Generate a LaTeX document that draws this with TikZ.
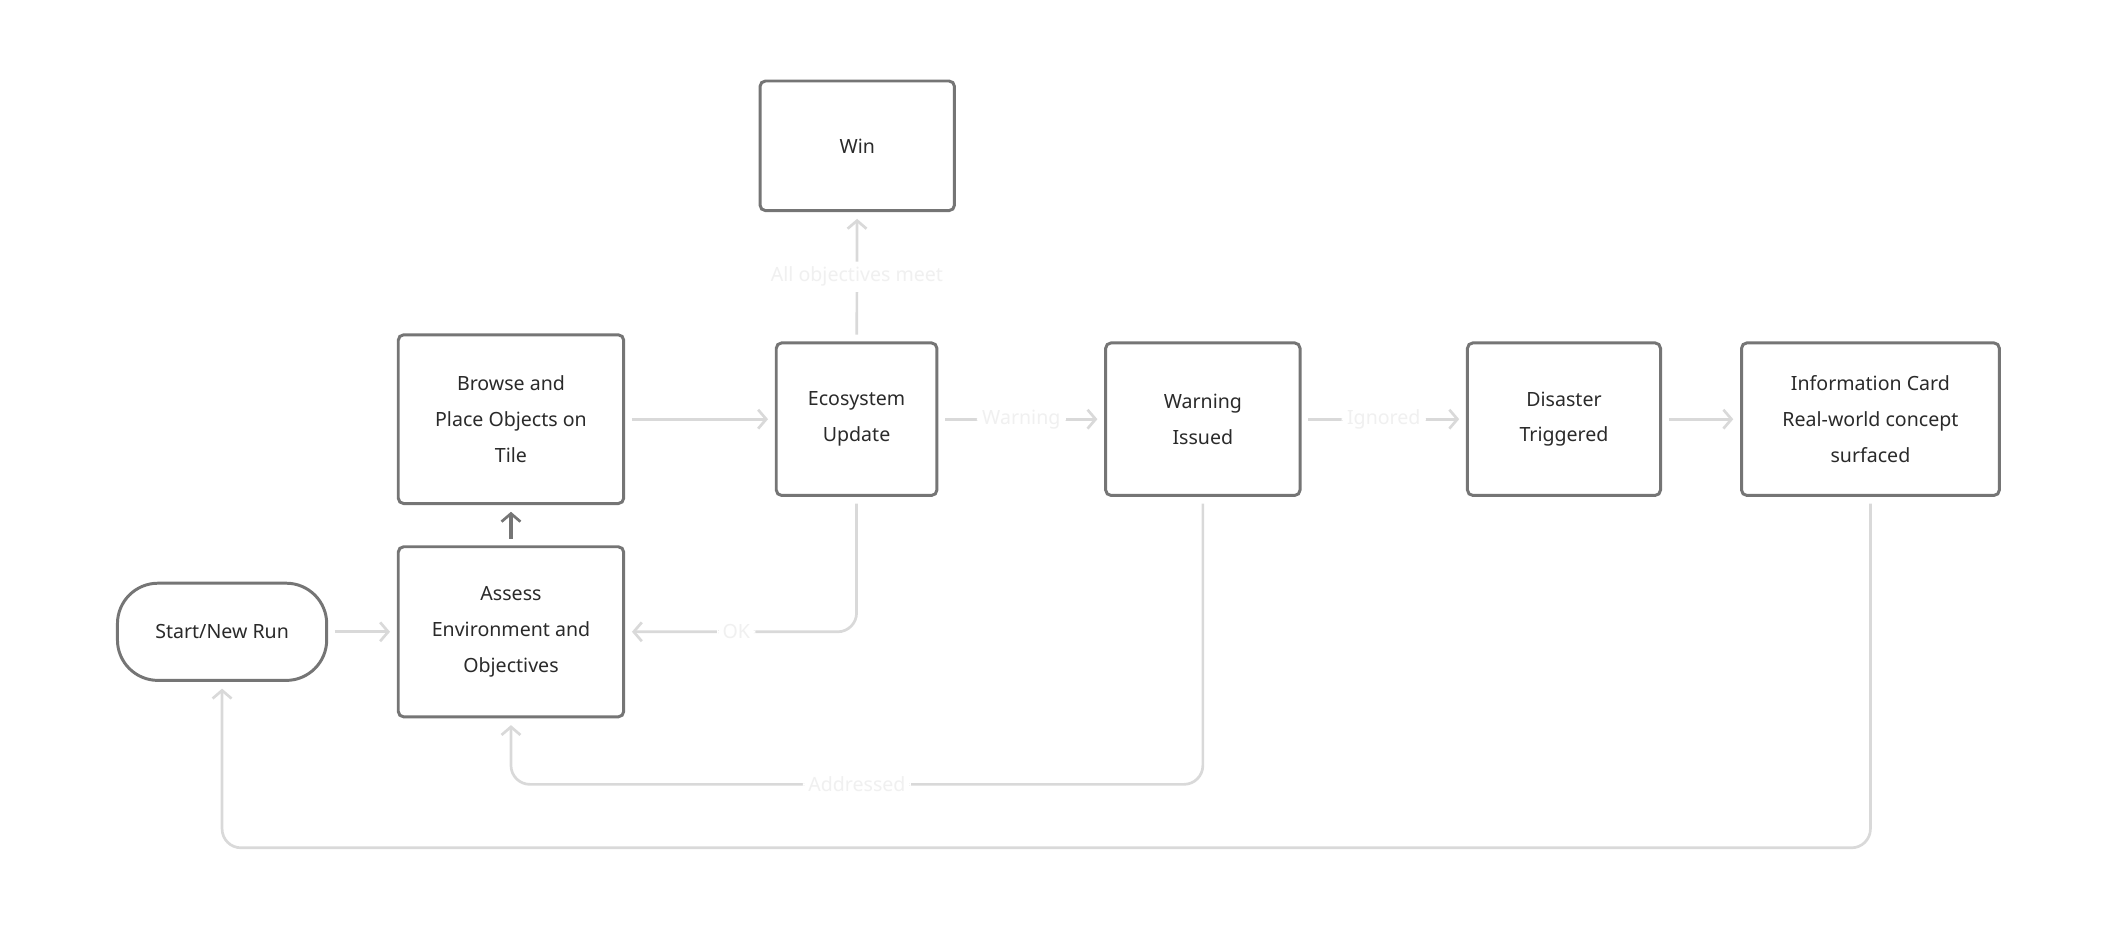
\documentclass[tikz,border=0pt]{standalone}
\usepackage{fontspec}
\setmainfont{Noto Sans}
\usetikzlibrary{arrows.meta}
\definecolor{bd}{HTML}{757575}
\definecolor{ln}{HTML}{D9D9D9}
\definecolor{lb}{HTML}{F0F0F0}
\definecolor{tx}{HTML}{2A2A2A}
\begin{document}
\begin{tikzpicture}[x=1pt,y=-1pt,
  box/.style={draw=bd,line width=2.2pt,rounded corners=4pt,fill=white,text=tx,align=center,inner sep=0pt,font=\fontsize{14.5pt}{26.5pt}\selectfont},
  ed/.style={draw=ln,line width=2pt,rounded corners=14pt,-{Straight Barb[length=6pt,width=14pt,line width=2pt]},shorten >=5pt,shorten <=5pt},
  lab/.style={fill=white,text=lb,font=\fontsize{14.5pt}{16pt}\selectfont,inner sep=4pt}]
\useasboundingbox (0,0) rectangle (1560,698.5);
\node[box,minimum width=144pt,minimum height=96pt] (win) at (635,108) {Win};
\node[box,minimum width=167pt,minimum height=125pt] (browse) at (378.5,310.5) {Browse and\\Place Objects on\\Tile};
\node[box,minimum width=119pt,minimum height=113pt] (eco) at (634.5,310.5) {Ecosystem\\Update};
\node[box,minimum width=144pt,minimum height=113pt] (warn) at (891,310.5) {Warning\\Issued};
\node[box,minimum width=143pt,minimum height=113pt] (dis) at (1158.5,310.5) {Disaster\\Triggered};
\node[box,minimum width=191pt,minimum height=113pt] (info) at (1385.5,310.5) {Information Card\\Real-world concept\\surfaced};
\node[box,minimum width=155pt,minimum height=72pt,rounded corners=30pt] (start) at (164.5,468) {Start/New Run};
\node[box,minimum width=167pt,minimum height=126pt] (assess) at (378.5,468) {Assess\\Environment and\\Objectives};

\draw[ed] (start) -- (assess);
\draw[ed,draw=bd,line width=2.4pt] (assess) -- (browse);
\draw[ed] (browse) -- (eco);
\draw[ed] (eco) -- node[lab]{All objectives meet} (win);
\draw[ed] (eco) -- node[lab]{Warning} (warn);
\draw[ed] (warn) -- node[lab]{Ignored} (dis);
\draw[ed] (dis) -- (info);
\draw[ed] (eco.south) -- (634.5,468) -- node[lab,pos=0.52]{OK} (assess.east);
\draw[ed] (warn.south) -- (891,581) -- node[lab]{Addressed} (378.5,581) -- (assess.south);
\draw[ed] (info.south) -- (1385.5,628) -- (164.5,628) -- (start.south);
\end{tikzpicture}
\end{document}
